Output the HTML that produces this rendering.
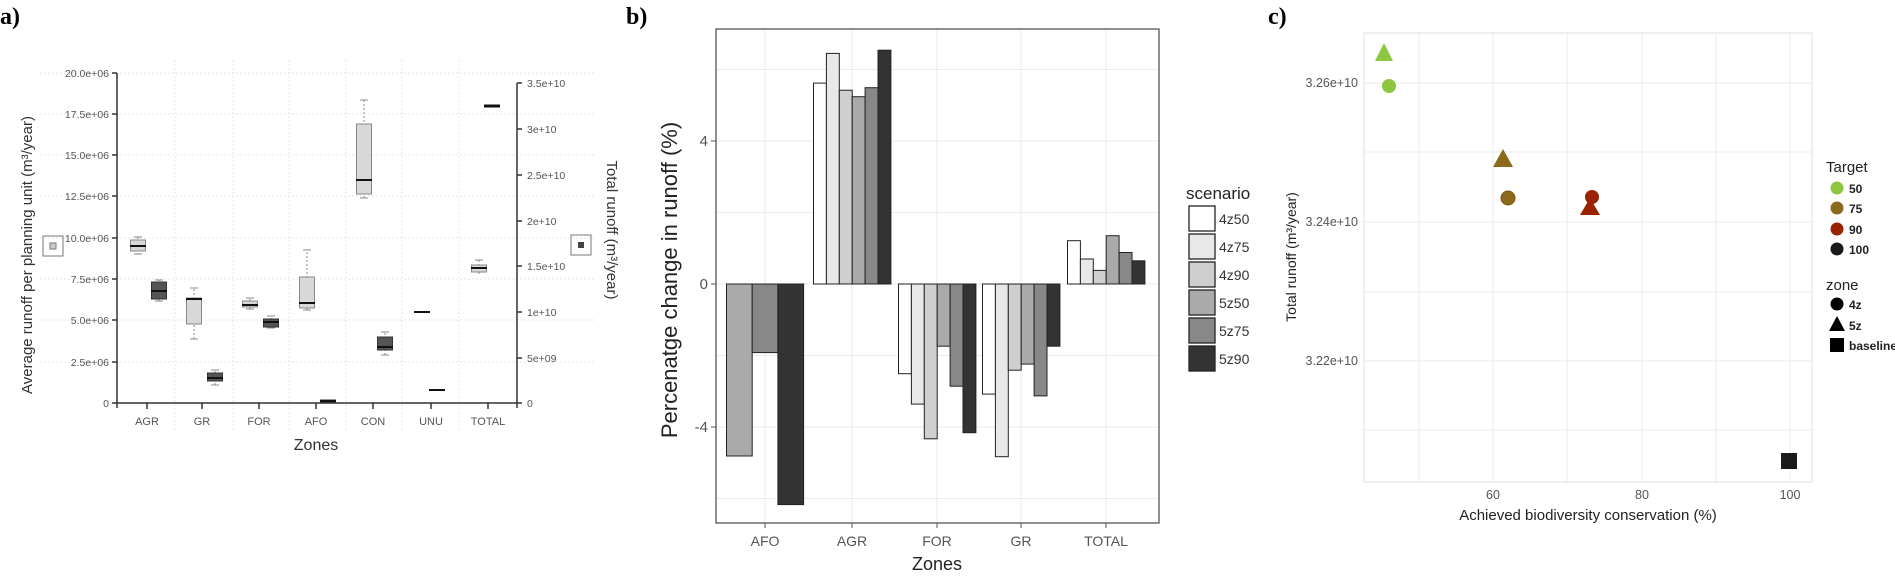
<!DOCTYPE html>
<html><head><meta charset="utf-8"><style>
html,body{margin:0;padding:0;background:#fff;}
svg{display:block;font-family:"Liberation Sans",Arial,sans-serif;}
</style></head><body>
<svg width="1895" height="576" viewBox="0 0 1895 576" xmlns="http://www.w3.org/2000/svg">
<!-- ===== Panel labels ===== -->
<text x="0" y="24" font-family="Liberation Serif" font-weight="bold" font-size="24">a)</text>
<text x="626" y="24" font-family="Liberation Serif" font-weight="bold" font-size="24">b)</text>
<text x="1268" y="24" font-family="Liberation Serif" font-weight="bold" font-size="24">c)</text>

<!-- ===== Panel a ===== -->
<g stroke="#e4e4e4" stroke-width="1" stroke-dasharray="2,2">
<line x1="40" y1="73" x2="596" y2="73"/><line x1="40" y1="114" x2="596" y2="114"/>
<line x1="40" y1="155" x2="596" y2="155"/><line x1="40" y1="196" x2="596" y2="196"/>
<line x1="40" y1="238" x2="596" y2="238"/><line x1="40" y1="279" x2="596" y2="279"/>
<line x1="40" y1="320" x2="596" y2="320"/><line x1="40" y1="362" x2="596" y2="362"/>
<line x1="175" y1="60" x2="175" y2="430"/><line x1="233" y1="60" x2="233" y2="430"/>
<line x1="289" y1="60" x2="289" y2="430"/><line x1="346" y1="60" x2="346" y2="430"/>
<line x1="402" y1="60" x2="402" y2="430"/><line x1="459" y1="60" x2="459" y2="430"/>
<line x1="517" y1="430" x2="517" y2="430"/>
</g>
<!-- axes -->
<g stroke="#333" stroke-width="1.5" fill="none">
<line x1="117" y1="73" x2="117" y2="408"/>
<line x1="117" y1="403" x2="517" y2="403"/>
<line x1="517" y1="83" x2="517" y2="408"/>
</g>
<g stroke="#333" stroke-width="1.5">
<line x1="112" y1="73" x2="117" y2="73"/><line x1="112" y1="114" x2="117" y2="114"/>
<line x1="112" y1="155" x2="117" y2="155"/><line x1="112" y1="196" x2="117" y2="196"/>
<line x1="112" y1="238" x2="117" y2="238"/><line x1="112" y1="279" x2="117" y2="279"/>
<line x1="112" y1="320" x2="117" y2="320"/><line x1="112" y1="362" x2="117" y2="362"/>
<line x1="112" y1="403" x2="117" y2="403"/>
<line x1="517" y1="83" x2="522" y2="83"/><line x1="517" y1="129" x2="522" y2="129"/>
<line x1="517" y1="175" x2="522" y2="175"/><line x1="517" y1="221" x2="522" y2="221"/>
<line x1="517" y1="266" x2="522" y2="266"/><line x1="517" y1="312" x2="522" y2="312"/>
<line x1="517" y1="358" x2="522" y2="358"/><line x1="517" y1="403" x2="522" y2="403"/>
<line x1="147" y1="403" x2="147" y2="409"/><line x1="202" y1="403" x2="202" y2="409"/>
<line x1="259" y1="403" x2="259" y2="409"/><line x1="316" y1="403" x2="316" y2="409"/>
<line x1="373" y1="403" x2="373" y2="409"/><line x1="431" y1="403" x2="431" y2="409"/>
<line x1="488" y1="403" x2="488" y2="409"/>
</g>
<g font-size="10.5" fill="#555" text-anchor="end">
<text x="109" y="77">20.0e+06</text><text x="109" y="118">17.5e+06</text>
<text x="109" y="159">15.0e+06</text><text x="109" y="200">12.5e+06</text>
<text x="109" y="242">10.0e+06</text><text x="109" y="283">7.5e+06</text>
<text x="109" y="324">5.0e+06</text><text x="109" y="366">2.5e+06</text>
<text x="109" y="407">0</text>
</g>
<g font-size="10.5" fill="#555">
<text x="527" y="87">3.5e+10</text><text x="527" y="133">3e+10</text>
<text x="527" y="179">2.5e+10</text><text x="527" y="225">2e+10</text>
<text x="527" y="270">1.5e+10</text><text x="527" y="316">1e+10</text>
<text x="527" y="362">5e+09</text><text x="527" y="407">0</text>
</g>
<g font-size="11" fill="#555" text-anchor="middle">
<text x="147" y="425">AGR</text><text x="202" y="425">GR</text><text x="259" y="425">FOR</text>
<text x="316" y="425">AFO</text><text x="373" y="425">CON</text><text x="431" y="425">UNU</text>
<text x="488" y="425">TOTAL</text>
</g>
<text x="316" y="450" font-size="16" fill="#333" text-anchor="middle">Zones</text>
<text transform="translate(32,255) rotate(-90)" font-size="15" fill="#333" text-anchor="middle">Average runoff per planning unit (m³/year)</text>
<text transform="translate(607,230) rotate(90)" font-size="15" fill="#333" text-anchor="middle">Total runoff (m³/year)</text>
<rect x="43" y="236" width="20" height="20" fill="none" stroke="#777"/>
<rect x="50" y="243" width="6" height="6" fill="#ccc" stroke="#777"/>
<rect x="571" y="235" width="20" height="20" fill="none" stroke="#777"/>
<rect x="578" y="242" width="6" height="6" fill="#444"/>
<!-- boxes: y = 403 - 16.4 v -->
<g stroke="#888" stroke-width="1">
<!-- whiskers light -->
<line x1="138" y1="237" x2="138" y2="254" stroke-dasharray="2,2"/>
<line x1="194" y1="339" x2="194" y2="288" stroke-dasharray="2,2"/>
<line x1="250" y1="309" x2="250" y2="298" stroke-dasharray="2,2"/>
<line x1="307" y1="310" x2="307" y2="250" stroke-dasharray="2,2"/>
<line x1="364" y1="198" x2="364" y2="100" stroke-dasharray="2,2"/>
<line x1="479" y1="274" x2="479" y2="260" stroke-dasharray="2,2"/>
<line x1="159" y1="301" x2="159" y2="280" stroke-dasharray="2,2"/>
<line x1="215" y1="385" x2="215" y2="370" stroke-dasharray="2,2"/>
<line x1="271" y1="328" x2="271" y2="316" stroke-dasharray="2,2"/>
<line x1="385" y1="355" x2="385" y2="332" stroke-dasharray="2,2"/>
<!-- whisker caps -->
<line x1="134" y1="237" x2="142" y2="237"/><line x1="134" y1="254" x2="142" y2="254"/>
<line x1="190" y1="339" x2="198" y2="339"/><line x1="190" y1="288" x2="198" y2="288"/>
<line x1="246" y1="309" x2="254" y2="309"/><line x1="246" y1="298" x2="254" y2="298"/>
<line x1="303" y1="310" x2="311" y2="310"/><line x1="303" y1="250" x2="311" y2="250"/>
<line x1="360" y1="198" x2="368" y2="198"/><line x1="360" y1="100" x2="368" y2="100"/>
<line x1="475" y1="260" x2="483" y2="260"/>
<line x1="155" y1="301" x2="163" y2="301"/><line x1="155" y1="280" x2="163" y2="280"/>
<line x1="211" y1="385" x2="219" y2="385"/><line x1="211" y1="370" x2="219" y2="370"/>
<line x1="267" y1="328" x2="275" y2="328"/><line x1="267" y1="316" x2="275" y2="316"/>
<line x1="381" y1="355" x2="389" y2="355"/><line x1="381" y1="332" x2="389" y2="332"/>
</g>
<g fill="#d8d8d8" stroke="#888">
<rect x="130.5" y="240" width="15" height="11"/>
<rect x="186.5" y="298" width="15" height="26"/>
<rect x="242.5" y="301" width="15" height="6"/>
<rect x="299.5" y="277" width="15" height="31"/>
<rect x="356.5" y="124" width="15" height="70"/>
<rect x="471.5" y="265" width="15" height="7"/>
</g>
<g fill="#555" stroke="#333">
<rect x="151.5" y="282" width="15" height="17"/>
<rect x="207.5" y="373" width="15" height="8"/>
<rect x="263.5" y="319" width="15" height="8"/>
<rect x="320.5" y="400" width="15" height="2"/>
<rect x="377.5" y="337" width="15" height="13"/>
</g>
<g stroke="#111" stroke-width="2">
<line x1="130" y1="246" x2="146" y2="246"/><line x1="151" y1="291" x2="167" y2="291"/>
<line x1="186" y1="299" x2="202" y2="299"/><line x1="207" y1="378" x2="223" y2="378"/>
<line x1="242" y1="305" x2="258" y2="305"/><line x1="263" y1="322" x2="279" y2="322"/>
<line x1="299" y1="303" x2="315" y2="303"/><line x1="320" y1="401" x2="336" y2="401"/>
<line x1="356" y1="180" x2="372" y2="180"/><line x1="377" y1="347" x2="393" y2="347"/>
<line x1="414" y1="312" x2="430" y2="312"/><line x1="429" y1="390" x2="445" y2="390"/>
<line x1="471" y1="268" x2="487" y2="268"/><line x1="484" y1="106" x2="500" y2="106" stroke-width="3"/>
</g>

<!-- ===== Panel b ===== -->
<g stroke="#ebebeb" stroke-width="1">
<line x1="716" y1="69.5" x2="1159" y2="69.5"/><line x1="716" y1="141" x2="1159" y2="141"/>
<line x1="716" y1="212.5" x2="1159" y2="212.5"/><line x1="716" y1="284" x2="1159" y2="284"/>
<line x1="716" y1="355.5" x2="1159" y2="355.5"/><line x1="716" y1="427" x2="1159" y2="427"/>
<line x1="716" y1="498.5" x2="1159" y2="498.5"/>
<line x1="765" y1="29" x2="765" y2="523"/><line x1="852" y1="29" x2="852" y2="523"/>
<line x1="937" y1="29" x2="937" y2="523"/><line x1="1021" y1="29" x2="1021" y2="523"/>
<line x1="1106" y1="29" x2="1106" y2="523"/>
</g>
<g stroke="#222" stroke-width="1">
<!-- AFO -->
<rect x="726.5" y="284" width="25.7" height="172" fill="#aaaaaa"/>
<rect x="752.2" y="284" width="25.7" height="68.6" fill="#888888"/>
<rect x="777.9" y="284" width="25.7" height="220.6" fill="#333333"/>
<!-- AGR -->
<rect x="813.5" y="83.1" width="12.9" height="200.9" fill="#ffffff"/>
<rect x="826.4" y="53.4" width="12.9" height="230.6" fill="#e8e8e8"/>
<rect x="839.3" y="90.2" width="12.9" height="193.8" fill="#cfcfcf"/>
<rect x="852.2" y="96.7" width="12.9" height="187.3" fill="#aaaaaa"/>
<rect x="865.1" y="87.7" width="12.9" height="196.3" fill="#888888"/>
<rect x="878.0" y="50.2" width="12.9" height="233.8" fill="#333333"/>
<!-- FOR -->
<rect x="898.5" y="284" width="12.9" height="89.7" fill="#ffffff"/>
<rect x="911.4" y="284" width="12.9" height="120.1" fill="#e8e8e8"/>
<rect x="924.3" y="284" width="12.9" height="154.8" fill="#cfcfcf"/>
<rect x="937.2" y="284" width="12.9" height="62.2" fill="#aaaaaa"/>
<rect x="950.1" y="284" width="12.9" height="102.2" fill="#888888"/>
<rect x="963.0" y="284" width="12.9" height="148.7" fill="#333333"/>
<!-- GR -->
<rect x="982.5" y="284" width="12.9" height="110.1" fill="#ffffff"/>
<rect x="995.4" y="284" width="12.9" height="172.7" fill="#e8e8e8"/>
<rect x="1008.3" y="284" width="12.9" height="86.2" fill="#cfcfcf"/>
<rect x="1021.2" y="284" width="12.9" height="80.1" fill="#aaaaaa"/>
<rect x="1034.1" y="284" width="12.9" height="111.9" fill="#888888"/>
<rect x="1047.0" y="284" width="12.9" height="62.2" fill="#333333"/>
<!-- TOTAL -->
<rect x="1067.5" y="240.7" width="12.9" height="43.3" fill="#ffffff"/>
<rect x="1080.4" y="259" width="12.9" height="25" fill="#e8e8e8"/>
<rect x="1093.3" y="270.4" width="12.9" height="13.6" fill="#cfcfcf"/>
<rect x="1106.2" y="235.7" width="12.9" height="48.3" fill="#aaaaaa"/>
<rect x="1119.1" y="252.5" width="12.9" height="31.5" fill="#888888"/>
<rect x="1132.0" y="260.8" width="12.9" height="23.2" fill="#333333"/>
</g>
<rect x="716" y="29" width="443" height="494" fill="none" stroke="#555" stroke-width="1.3"/>
<g stroke="#555" stroke-width="1">
<line x1="711" y1="141" x2="716" y2="141"/><line x1="711" y1="284" x2="716" y2="284"/>
<line x1="711" y1="427" x2="716" y2="427"/>
<line x1="765" y1="523" x2="765" y2="528"/><line x1="852" y1="523" x2="852" y2="528"/>
<line x1="937" y1="523" x2="937" y2="528"/><line x1="1021" y1="523" x2="1021" y2="528"/>
<line x1="1106" y1="523" x2="1106" y2="528"/>
</g>
<g font-size="15" fill="#555" text-anchor="end">
<text x="708" y="146">4</text><text x="708" y="289">0</text><text x="708" y="432">-4</text>
</g>
<g font-size="14" fill="#555" text-anchor="middle">
<text x="765" y="546">AFO</text><text x="852" y="546">AGR</text><text x="937" y="546">FOR</text>
<text x="1021" y="546">GR</text><text x="1106" y="546">TOTAL</text>
</g>
<text x="937" y="570" font-size="18" fill="#222" text-anchor="middle">Zones</text>
<text transform="translate(677,280) rotate(-90)" font-size="22" fill="#222" text-anchor="middle">Percenatge change in runoff (%)</text>
<text x="1186" y="199" font-size="17" fill="#222">scenario</text>
<g stroke="#222" stroke-width="1.3">
<rect x="1189" y="206" width="26" height="25" fill="#ffffff"/>
<rect x="1189" y="234" width="26" height="25" fill="#e8e8e8"/>
<rect x="1189" y="262" width="26" height="25" fill="#cfcfcf"/>
<rect x="1189" y="290" width="26" height="25" fill="#aaaaaa"/>
<rect x="1189" y="318" width="26" height="25" fill="#888888"/>
<rect x="1189" y="346" width="26" height="25" fill="#333333"/>
</g>
<g font-size="14" fill="#333">
<text x="1219" y="224">4z50</text><text x="1219" y="252">4z75</text><text x="1219" y="280">4z90</text>
<text x="1219" y="308">5z50</text><text x="1219" y="336">5z75</text><text x="1219" y="364">5z90</text>
</g>

<!-- ===== Panel c ===== -->
<g stroke="#ebebeb" stroke-width="1">
<line x1="1364" y1="83" x2="1812" y2="83"/><line x1="1364" y1="152" x2="1812" y2="152"/>
<line x1="1364" y1="222" x2="1812" y2="222"/><line x1="1364" y1="292" x2="1812" y2="292"/>
<line x1="1364" y1="361" x2="1812" y2="361"/><line x1="1364" y1="430" x2="1812" y2="430"/>
<line x1="1419" y1="33" x2="1419" y2="482"/><line x1="1493" y1="33" x2="1493" y2="482"/>
<line x1="1567" y1="33" x2="1567" y2="482"/><line x1="1642" y1="33" x2="1642" y2="482"/>
<line x1="1716" y1="33" x2="1716" y2="482"/><line x1="1790" y1="33" x2="1790" y2="482"/>
</g>
<rect x="1364" y="33" width="448" height="449" fill="none" stroke="#e4e4e4" stroke-width="1.2"/>
<g font-size="12.5" fill="#555" text-anchor="end">
<text x="1358" y="87">3.26e+10</text><text x="1358" y="226">3.24e+10</text><text x="1358" y="365">3.22e+10</text>
</g>
<g font-size="12.5" fill="#555" text-anchor="middle">
<text x="1493" y="499">60</text><text x="1642" y="499">80</text><text x="1790" y="499">100</text>
</g>
<text x="1588" y="520" font-size="15" fill="#222" text-anchor="middle">Achieved biodiversity conservation (%)</text>
<text transform="translate(1296,257) rotate(-90)" font-size="14" fill="#222" text-anchor="middle">Total runoff (m³/year)</text>
<!-- points -->
<polygon points="1384,43 1375,61 1393,61" fill="#8dc63f"/>
<circle cx="1389" cy="86" r="7" fill="#8dc63f"/>
<polygon points="1503,149 1493,167 1513,167" fill="#8c6a1c"/>
<circle cx="1508" cy="198" r="7" fill="#8c6a1c" stroke="#7a5a10" stroke-width="1"/>
<circle cx="1592" cy="197" r="7" fill="#992200"/>
<polygon points="1590,198 1580,215 1600,215" fill="#992200"/>
<rect x="1781" y="453" width="16" height="16" fill="#1a1a1a"/>
<!-- legend -->
<text x="1826" y="172" font-size="15" fill="#222">Target</text>
<circle cx="1837" cy="188" r="6.5" fill="#8dc63f"/>
<circle cx="1837" cy="208" r="6.5" fill="#8c6a1c"/>
<circle cx="1837" cy="229" r="6.5" fill="#992200"/>
<circle cx="1837" cy="249" r="6.5" fill="#1a1a1a"/>
<g font-size="12" fill="#222" font-weight="bold">
<text x="1849" y="193">50</text><text x="1849" y="213">75</text><text x="1849" y="234">90</text><text x="1849" y="254">100</text>
</g>
<text x="1826" y="290" font-size="15" fill="#222">zone</text>
<circle cx="1837" cy="304" r="6.5" fill="#000"/>
<polygon points="1837,316 1829,331 1845,331" fill="#000"/>
<rect x="1830" y="338" width="14" height="14" fill="#000"/>
<g font-size="12" fill="#222" font-weight="bold">
<text x="1849" y="309">4z</text><text x="1849" y="330">5z</text><text x="1849" y="350">baseline</text>
</g>
</svg>
</body></html>
